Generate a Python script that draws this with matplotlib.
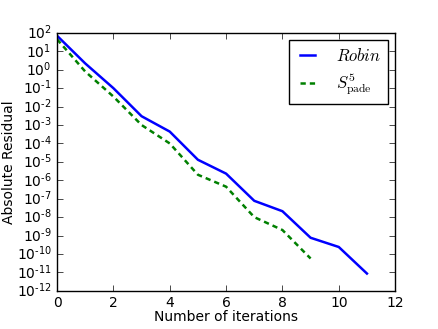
import numpy as np
import matplotlib
matplotlib.use("Agg")
import matplotlib.pyplot as plt
from matplotlib.ticker import FixedLocator, FuncFormatter, NullLocator

plt.style.use("classic")
plt.rcParams["mathtext.fontset"] = "cm"

# residual histories
iters_robin = [0, 1, 2, 3, 4, 5, 6, 7, 8, 9, 10, 11]
res_robin = [70, 2.2, 0.1, 3e-3, 4.4e-4, 1.3e-5, 2.3e-6, 7.7e-8, 2.1e-8,
             7.6e-10, 2.4e-10, 8.7e-12]
iters_pade = [0, 1, 2, 3, 4, 5, 6, 7, 8, 9]
res_pade = [45, 0.8, 0.035, 1e-3, 1e-4, 2e-6, 4.5e-7, 1e-8, 2e-9, 5.7e-11]

xticks = [0, 2, 4, 6, 8, 10, 12]
ydecades = list(range(-12, 3))


def decade_label(v, pos):
    k = int(round(np.log10(v)))
    s = str(k).replace("-", "\u2010")
    return r"$\mathregular{10^{%s}}$" % s


fig = plt.figure(figsize=(4.39, 3.29), dpi=100)
ax = fig.add_axes([0.130, 0.116, 0.770, 0.784])

ax.semilogy(iters_robin, res_robin, "b-", lw=1.8, label=r"$Robin$")
ax.semilogy(iters_pade, res_pade, "g--", lw=1.8, dashes=(3.8, 2.9),
            label=r"$S^5_{\rm pade}$")

ax.set_xlim(0, 12)
ax.set_ylim(1e-12, 1e2)
ax.set_xticks(xticks)
ax.yaxis.set_major_locator(FixedLocator([10.0 ** k for k in ydecades]))
ax.yaxis.set_minor_locator(NullLocator())
ax.yaxis.set_major_formatter(FuncFormatter(decade_label))
ax.tick_params(labelsize=10)

ax.set_xlabel("Number of iterations", fontsize=10)
ax.set_ylabel("Absolute Residual", fontsize=10)
ax.yaxis.set_label_coords(-0.122, 0.5)
ax.xaxis.set_label_coords(0.5, -0.074)
ax.legend(loc="upper right", fontsize=12, handlelength=1.45,
          handletextpad=1.0, borderaxespad=0.42, labelspacing=0.4)

fig.savefig("out.png", dpi=100)
